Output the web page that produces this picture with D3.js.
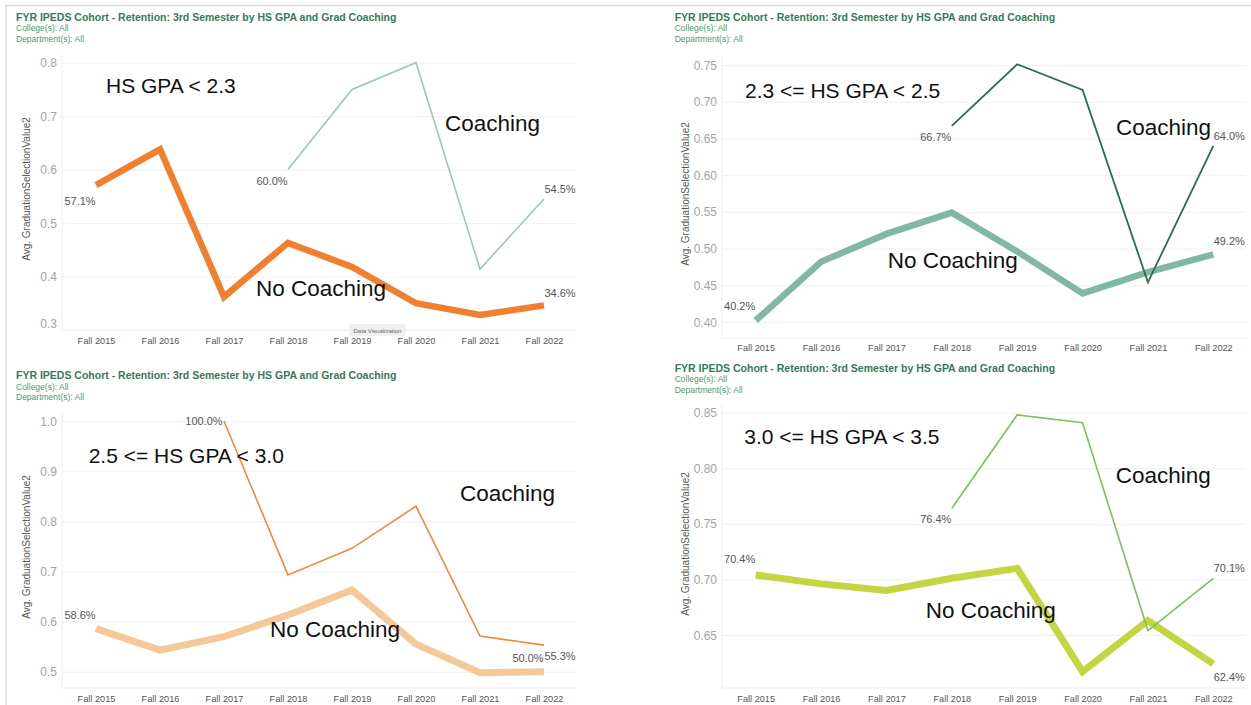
<!DOCTYPE html>
<html>
  <head>
    <meta charset="UTF-8" />
    <style>
      body {
        margin: 0;
        background-color: #ffffff;
      }
      svg {
        display: block;
        font-family: "Liberation Sans", Arial, sans-serif;
      }
      .grid line {
        stroke: #f0f0f0;
      }
      .grid path {
        display: none;
      }
      .title {
        fill: #35795a;
        font-weight: bold;
        font-size: 10.5px;
      }
      .sub {
        fill: #4a9a70;
        font-size: 8.5px;
      }
      .ytick text {
        fill: #a3a3a3;
        font-size: 12px;
      }
      .xtick text {
        fill: #555;
        font-size: 9.2px;
      }
      .ytitle {
        fill: #555;
        font-size: 10px;
      }
      .pct {
        fill: #555;
        font-size: 11px;
      }
      .note {
        fill: #111;
      }
    </style>
  </head>

  <body>
    <div id="container">
      <svg></svg>
    </div>

    <script src="https://d3js.org/d3.v7.min.js"></script>
    <script>
      const years = ["Fall 2015", "Fall 2016", "Fall 2017", "Fall 2018", "Fall 2019", "Fall 2020", "Fall 2021", "Fall 2022"];

      // HS GPA < 2.3
      const noCoach1 = [0.571, 0.638, 0.362, 0.463, 0.418, 0.350, 0.328, 0.346];
      const coach1 = [null, null, null, 0.600, 0.750, 0.800, 0.414, 0.545];
      const ticks1 = [0.3, 0.4, 0.5, 0.6, 0.7, 0.8];

      // 2.3 <= HS GPA < 2.5
      const noCoach2 = [0.402, 0.482, 0.520, 0.549, 0.496, 0.439, 0.468, 0.492];
      const coach2 = [null, null, null, 0.667, 0.751, 0.716, 0.454, 0.640];
      const ticks2 = [0.40, 0.45, 0.50, 0.55, 0.60, 0.65, 0.70, 0.75];

      // 2.5 <= HS GPA < 3.0
      const noCoach3 = [0.586, 0.543, 0.570, 0.613, 0.663, 0.555, 0.498, 0.500];
      const coach3 = [null, null, 1.000, 0.693, 0.746, 0.830, 0.571, 0.553];
      const ticks3 = [0.5, 0.6, 0.7, 0.8, 0.9, 1.0];

      // 3.0 <= HS GPA < 3.5
      const noCoach4 = [0.704, 0.696, 0.690, 0.701, 0.710, 0.617, 0.663, 0.624];
      const coach4 = [null, null, null, 0.764, 0.848, 0.841, 0.654, 0.701];
      const ticks4 = [0.65, 0.70, 0.75, 0.80, 0.85];

      const gpaLabels = ["HS GPA < 2.3", "2.3 <= HS GPA < 2.5", "2.5 <= HS GPA < 3.0", "3.0 <= HS GPA < 3.5"];

      const titleText = "FYR IPEDS Cohort - Retention: 3rd Semester by HS GPA and Grad Coaching";
      const yTitle = "Avg. GraduationSelectionValue2";

      const pct = d3.format(".1%");

      const panels = [
        {
          nc: noCoach1, c: coach1, ticks: ticks1, fmt: ".1f", gpa: gpaLabels[0],
          tx: 16, ty: 20.5, left: 62, xr: [64, 576], bottom: 330, yr: [330, 62.7], xlab: 343,
          ytx: 26, yty: 189, ncColor: "#f07f2f", cColor: "#9ec8b6", ncW: 6.5, cW: 1.6,
          gpaPos: [106, 93, 21], cPos: [445, 131], ncPos: [256, 296],
          labels: [
            ["nc", 0, -16, 20], ["c", 3, -16, 15], ["c", 7, 16, -6], ["nc", 7, 16, -8]
          ],
          bottomShift: -7
        },
        {
          nc: noCoach2, c: coach2, ticks: ticks2, fmt: ".2f", gpa: gpaLabels[1],
          tx: 674.7, ty: 20.5, left: 722, xr: [723, 1246], bottom: 338, yr: [322, 65], xlab: 350,
          ytx: 685, yty: 194, ncColor: "#80b8a2", cColor: "#2e6b50", ncW: 6.5, cW: 1.8,
          gpaPos: [745, 97.7, 21], cPos: [1116, 135], ncPos: [887.7, 268],
          labels: [
            ["nc", 0, -16, -11], ["c", 3, -16, 15], ["c", 7, 16, -6], ["nc", 7, 16, -9]
          ],
          bottomShift: 0
        },
        {
          nc: noCoach3, c: coach3, ticks: ticks3, fmt: ".1f", gpa: gpaLabels[2],
          tx: 16, ty: 379, left: 62, xr: [64, 576], bottom: 688, yr: [671.7, 421], xlab: 701.5,
          ytx: 26, yty: 547, ncColor: "#f5c897", cColor: "#f08a3a", ncW: 7, cW: 1.6,
          gpaPos: [88.7, 462.7, 21], cPos: [460, 500.7], ncPos: [270, 637.3],
          labels: [
            ["c", 2, -20, 4], ["nc", 0, -16, -10], ["nc", 7, -16, -10], ["c", 7, 16, 15]
          ],
          bottomShift: 0
        },
        {
          nc: noCoach4, c: coach4, ticks: ticks4, fmt: ".2f", gpa: gpaLabels[3],
          tx: 674.7, ty: 371.5, left: 722, xr: [723, 1246], bottom: 688, yr: [635, 412.7], xlab: 701,
          ytx: 685, yty: 544, ncColor: "#c3d540", cColor: "#7cc35a", ncW: 7, cW: 1.6,
          gpaPos: [744.3, 444, 21], cPos: [1115.7, 482.7], ncPos: [925.7, 618.3],
          labels: [
            ["nc", 0, -16, -12], ["c", 3, -16, 14.5], ["c", 7, 16, -6], ["nc", 7, 16, 17.5]
          ],
          bottomShift: 0
        }
      ];

      const svg = d3.select("svg").attr("width", 1251).attr("height", 705);

      svg.append("rect").attr("width", 1251).attr("height", 705).attr("fill", "#fff");

      // screenshot frame lines
      svg.append("line").attr("x1", 6).attr("x2", 1251).attr("y1", 5.5).attr("y2", 5.5)
        .attr("stroke", "#dcdcdc").attr("stroke-width", 1.5);
      svg.append("line").attr("x1", 6).attr("x2", 6).attr("y1", 5).attr("y2", 705)
        .attr("stroke", "#dcdcdc").attr("stroke-width", 1.5);

      panels.forEach((p) => {
        const g = svg.append("g");

        // yScale from the two end ticks
        const t0 = p.ticks[0];
        const t1 = p.ticks[p.ticks.length - 1];
        const yScale = d3.scaleLinear().domain([t0, t1]).range(p.yr);
        const xScale = d3.scalePoint().domain(years).range(p.xr).padding(0.5);
        const right = p.xr[1];
        const top = Math.min(...p.yr);

        g.append("text").attr("class", "title").attr("x", p.tx).attr("y", p.ty).text(titleText);
        g.append("text").attr("class", "sub").attr("x", p.tx).attr("y", p.ty + 10.5).text("College(s): All");
        g.append("text").attr("class", "sub").attr("x", p.tx).attr("y", p.ty + 21).text("Department(s): All");

        // gridlines
        g.append("g")
          .attr("class", "grid")
          .attr("transform", `translate(${p.left}, 0)`)
          .call(d3.axisLeft(yScale).tickValues(p.ticks).tickSize(-(right - p.left)).tickFormat(""));

        // faint axis frame
        g.append("line").attr("x1", p.left).attr("x2", p.left).attr("y1", top - 8).attr("y2", p.bottom)
          .attr("stroke", "#efefef");
        g.append("line").attr("x1", p.left).attr("x2", right).attr("y1", p.bottom).attr("y2", p.bottom)
          .attr("stroke", "#efefef");

        const yAxis = g.append("g")
          .attr("class", "ytick")
          .attr("transform", `translate(${p.left - 2}, 0)`)
          .call(d3.axisLeft(yScale).tickValues(p.ticks).tickSize(0).tickFormat(d3.format(p.fmt)));
        yAxis.select(".domain").remove();
        yAxis.selectAll("text").attr("dy", (d) => (d === t0 && p.bottomShift ? p.bottomShift + 4 : 4) + "px");

        const xAxis = g.append("g")
          .attr("class", "xtick")
          .attr("transform", `translate(0, ${p.xlab - 9})`)
          .call(d3.axisBottom(xScale).tickSize(0));
        xAxis.select(".domain").remove();

        g.append("text")
          .attr("class", "ytitle")
          .attr("transform", `translate(${p.ytx}, ${p.yty}) rotate(-90)`)
          .attr("text-anchor", "middle")
          .attr("dy", "0.35em")
          .text(yTitle);

        const line = d3.line()
          .defined((d) => d != null)
          .x((d, i) => xScale(years[i]))
          .y((d) => yScale(d));

        g.append("path")
          .datum(p.nc)
          .attr("fill", "none")
          .attr("stroke", p.ncColor)
          .attr("stroke-width", p.ncW)
          .attr("stroke-linejoin", "miter")
          .attr("d", line);

        g.append("path")
          .datum(p.c)
          .attr("fill", "none")
          .attr("stroke", p.cColor)
          .attr("stroke-width", p.cW)
          .attr("d", line);

        // value labels
        p.labels.forEach(([series, i, dx, dy]) => {
          const v = series === "nc" ? p.nc[i] : p.c[i];
          g.append("text")
            .attr("class", "pct")
            .attr("x", xScale(years[i]) + dx)
            .attr("y", yScale(v) + dy)
            .attr("text-anchor", "middle")
            .text(pct(v));
        });

        // annotations
        g.append("text").attr("class", "note").attr("x", p.gpaPos[0]).attr("y", p.gpaPos[1])
          .style("font-size", p.gpaPos[2] + "px").text(p.gpa);
        g.append("text").attr("class", "note").attr("x", p.cPos[0]).attr("y", p.cPos[1])
          .style("font-size", "22.5px").text("Coaching");
        g.append("text").attr("class", "note").attr("x", p.ncPos[0]).attr("y", p.ncPos[1])
          .style("font-size", "22.5px").text("No Coaching");
      });

      // small hover tooltip visible in the screenshot
      const tip = svg.append("g");
      tip.append("rect").attr("x", 349).attr("y", 324).attr("width", 57).attr("height", 12).attr("rx", 2)
        .attr("fill", "#eeeeee").attr("opacity", 0.9);
      tip.append("text").attr("x", 377.5).attr("y", 332.5).attr("text-anchor", "middle")
        .attr("fill", "#666").style("font-size", "6px").text("Data Visualization");
    </script>
  </body>
</html>
